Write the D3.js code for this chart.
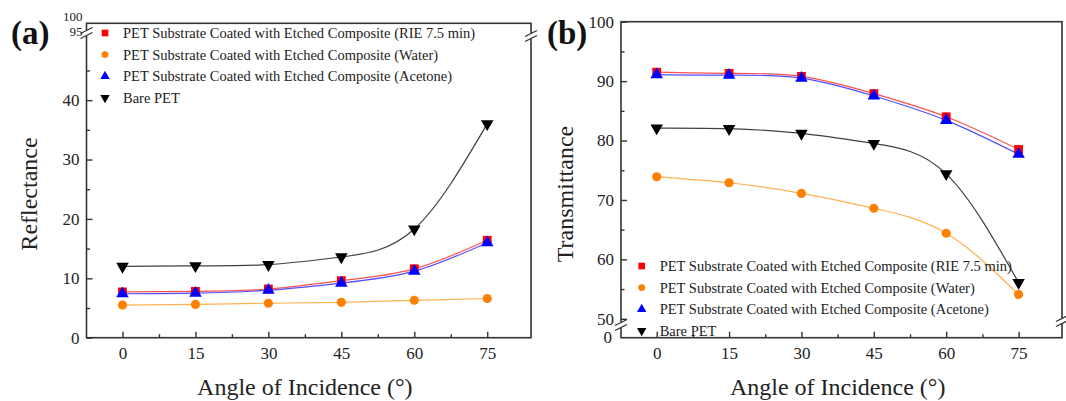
<!DOCTYPE html>
<html>
<head>
<meta charset="utf-8">
<script src="https://cdn.jsdelivr.net/npm/d3@7"></script>
<style>
  body { margin: 0; background: #fff; }
  svg text { font-family: "Liberation Serif", "Times New Roman", "DejaVu Serif", serif; }
  .axis text { fill: #222; font-size: 17px; }
  .axis line { stroke: #333; stroke-width: 1.4; }
  .axis path { display: none; }
</style>
</head>
<body>
<script>
var angles = [0, 15, 30, 45, 60, 75];
var seriesNames = [
  "PET Substrate Coated with Etched Composite (RIE 7.5 min)",
  "PET Substrate Coated with Etched Composite (Water)",
  "PET Substrate Coated with Etched Composite (Acetone)",
  "Bare PET"
];
var seriesColors = ["#ff0000", "#ff8000", "#0000ff", "#000000"];
var lineColors = ["#ff5050", "#ffb050", "#5050ff", "#404040"];

// reflectance (a)
var reflRIE = [7.7, 7.8, 8.2, 9.6, 11.6, 16.4];
var reflWater = [5.5, 5.6, 5.8, 5.95, 6.3, 6.6];
var reflAcetone = [7.4, 7.5, 8.0, 9.2, 11.2, 16.0];
var reflBare = [12.0, 12.1, 12.3, 13.6, 18.3, 36.0];

// transmittance (b)
var transRIE = [91.5, 91.3, 90.8, 87.9, 84.0, 78.5];
var transWater = [73.9, 72.9, 71.1, 68.6, 64.4, 54.1];
var transAcetone = [91.1, 91.0, 90.5, 87.5, 83.4, 77.7];
var transBare = [82.1, 82.0, 81.2, 79.5, 74.4, 56.1];

var xTicks = [0, 15, 30, 45, 60, 75];
var xMinor = [7.5, 22.5, 37.5, 52.5, 67.5];
var reflTicks = [0, 10, 20, 30, 40];
var reflMinor = [5, 15, 25, 35, 45];
var reflTopTicks = [95, 100];
var transTicks = [50, 60, 70, 80, 90, 100];
var transMinor = [55, 65, 75, 85, 95];
var transBottomTicks = [0];

var W = 1066, H = 401;
var svg = d3.select("body").append("svg")
    .attr("width", W)
    .attr("height", H);

var bottomY = 337.7;

// order drawn: bare, RIE, water, acetone (blue on top)
var drawOrder = [3, 0, 1, 2];

function symbolFor(i, big) {
  var s = big ? 1 : 0.75;
  if (i == 0) return d3.symbol().type(d3.symbolSquare).size(78 * s * s)();
  if (i == 1) return d3.symbol().type(d3.symbolCircle).size(66 * s * s)();
  return d3.symbol().type(d3.symbolTriangle).size(68 * s * s)();
}

function marker(g, i, x, y, big) {
  g.append("path")
    .attr("d", symbolFor(i, big))
    .attr("transform", "translate(" + x + "," + y + ")" + (i == 3 ? " rotate(180)" : ""))
    .attr("fill", seriesColors[i]);
}

function breakMark(g, x, y) {
  g.append("rect")
    .attr("x", x - 3).attr("y", y - 3)
    .attr("width", 6).attr("height", 6)
    .attr("fill", "#fff");
  [-2.5, 2.5].forEach(function(o) {
    g.append("line")
      .attr("x1", x - 6).attr("y1", y + o + 3)
      .attr("x2", x + 6).attr("y2", y + o - 3)
      .attr("stroke", "#333").attr("stroke-width", 1.3);
  });
}

function drawPanel(opt) {
  var g = svg.append("g");
  var x = d3.scaleLinear().domain([-7.4, 84]).range([opt.left, opt.right]);
  var y = opt.y;

  // x axis ticks (pointing inward)
  g.append("g").attr("class", "axis")
      .attr("transform", "translate(0," + bottomY + ")")
      .call(d3.axisBottom(x).tickValues(xTicks).tickSizeInner(-6).tickSizeOuter(0).tickPadding(9));
  g.append("g").attr("class", "axis")
      .attr("transform", "translate(0," + bottomY + ")")
      .call(d3.axisBottom(x).tickValues(xMinor).tickSizeInner(-3.5).tickSizeOuter(0).tickFormat(""));

  // y axis ticks
  g.append("g").attr("class", "axis")
      .attr("transform", "translate(" + opt.left + ",0)")
      .call(d3.axisLeft(y).tickValues(opt.yTicks).tickSizeInner(-6).tickSizeOuter(0).tickPadding(7));
  g.append("g").attr("class", "axis")
      .attr("transform", "translate(" + opt.left + ",0)")
      .call(d3.axisLeft(y).tickValues(opt.yMinor).tickSizeInner(-3.5).tickSizeOuter(0).tickFormat(""));

  // extra segment labels beyond the break
  g.append("g").attr("class", "axis")
      .attr("transform", "translate(" + opt.left + ",0)")
      .call(d3.axisLeft(opt.y2).tickValues(opt.y2Ticks).tickSize(0).tickPadding(opt.y2Pad).tickFormat(d3.format("d")))
      .selectAll("text").style("font-size", opt.y2Font);

  // frame
  g.append("rect")
    .attr("x", opt.left).attr("y", opt.top)
    .attr("width", opt.right - opt.left).attr("height", bottomY - opt.top)
    .attr("fill", "none").attr("stroke", "#333").attr("stroke-width", 1.6);

  breakMark(g, opt.left, opt.breakY);
  breakMark(g, opt.right, opt.breakY2);

  // curves + points
  var line = d3.line()
      .x(function(d) { return x(d[0]); })
      .y(function(d) { return y(d[1]); })
      .curve(d3.curveNatural);

  drawOrder.forEach(function(i) {
    var pts = angles.map(function(a, k) { return [a, opt.series[i][k]]; });
    g.append("path")
      .attr("d", line(pts))
      .attr("fill", "none")
      .attr("stroke", lineColors[i])
      .attr("stroke-width", 1.2);
  });
  drawOrder.forEach(function(i) {
    angles.forEach(function(a, k) {
      marker(g, i, x(a), y(opt.series[i][k]), true);
    });
  });

  // legend
  var lg = g.append("g");
  seriesNames.forEach(function(name, i) {
    var ly = opt.legendY + i * 21.6;
    marker(lg, i, opt.legendX, ly, false);
    lg.append("text")
      .attr("x", opt.legendX + 18)
      .attr("y", ly)
      .attr("dy", "0.35em")
      .style("font-size", "14.5px")
      .style("fill", "#222")
      .text(name);
  });

  // titles
  g.append("text")
    .attr("x", (x(0) + x(75)) / 2)
    .attr("y", 395)
    .attr("text-anchor", "middle")
    .style("font-size", "24px")
    .style("fill", "#222")
    .text("Angle of Incidence (°)");

  g.append("text")
    .attr("transform", "translate(" + opt.yTitleX + ",194) rotate(-90)")
    .attr("text-anchor", "middle")
    .style("font-size", "24px")
    .style("fill", "#222")
    .text(opt.yTitle);

  g.append("text")
    .attr("x", opt.tagX)
    .attr("y", 44)
    .style("font-size", "33px")
    .style("font-weight", "bold")
    .style("fill", "#111")
    .text(opt.tag);
}

drawPanel({
  left: 86.5, right: 531, top: 23.3,
  y: d3.scaleLinear().domain([0, 51]).range([bottomY, 34.8]),
  yTicks: reflTicks, yMinor: reflMinor,
  y2: d3.scaleLinear().domain([95, 100]).range([31, 16]),
  y2Ticks: reflTopTicks, y2Pad: 4, y2Font: "13px",
  breakY: 33, breakY2: 36,
  series: [reflRIE, reflWater, reflAcetone, reflBare],
  legendX: 105, legendY: 33,
  yTitle: "Reflectance", yTitleX: 37,
  tag: "(a)", tagX: 11
});

drawPanel({
  left: 621, right: 1062, top: 21.7,
  y: d3.scaleLinear().domain([50, 100]).range([318.8, 21.7]),
  yTicks: transTicks, yMinor: transMinor,
  y2: d3.scaleLinear().domain([0, 1]).range([bottomY - 1, bottomY - 6]),
  y2Ticks: transBottomTicks, y2Pad: 9, y2Font: "17px",
  breakY: 325, breakY2: 321,
  series: [transRIE, transWater, transAcetone, transBare],
  legendX: 641.7, legendY: 266,
  yTitle: "Transmittance", yTitleX: 573,
  tag: "(b)", tagX: 547
});
</script>
</body>
</html>
